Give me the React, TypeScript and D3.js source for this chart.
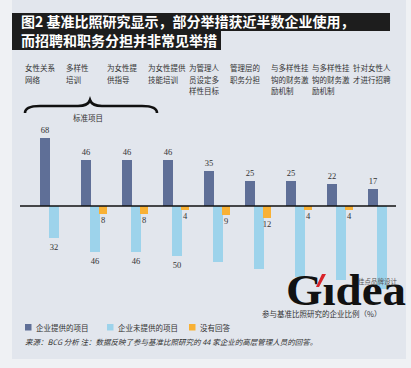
import React from 'react';
import * as d3 from 'd3';

const categories = ['c1', 'c2', 'c3', 'c4', 'c5', 'c6', 'c7', 'c8', 'c9'];
const categoryLabels = [
  ['女性关系', '网络'],
  ['多样性', '培训'],
  ['为女性提', '供指导'],
  ['为女性提供', '技能培训'],
  ['为管理人', '员设定多', '样性目标'],
  ['管理层的', '职务分担'],
  ['与多样性挂', '钩的财务激', '励机制'],
  ['与多样性挂', '钩的财务激', '励机制'],
  ['针对女性人', '才进行招聘']
];
const offered = [68, 46, 46, 46, 35, 25, 25, 22, 17];
const notOffered = [32, 46, 46, 50, 56, 63, 71, 74, 83];
const noAnswer = [0, 8, 8, 4, 9, 12, 4, 4, 0];
const legendLabels = ['企业提供的项目', '企业未提供的项目', '没有回答'];

const COLORS = ['#5f6f97', '#9dd3eb', '#f8b135'];
const CJK = '"Noto Sans CJK SC", "Noto Sans", sans-serif';
const NUM = '"Liberation Serif", "DejaVu Serif", serif';

const W = 411;
const H = 368;

const App = () => {
  const x = d3.scaleBand<string>().domain(categories).range([40, 40 + 41 * 9]).padding(0);
  const y = d3.scaleLinear().domain([-100, 100]).range([306, 106]);
  const y0 = y(0);
  // labels under the logo are not visible in the source
  const logoTop = 270;

  return (
    <svg width={W} height={H} style={{ position: 'absolute', left: 0, top: 0, background: '#eff1f4' }}>
      <rect x={12} y={0} width={394} height={359} fill='#e2e6ed' />

      {/* title */}
      <rect x={12} y={13} width={378} height={18} fill='#1d1d1d' />
      <rect x={12} y={31} width={209} height={19} fill='#1d1d1d' />
      <text x={21} y={27} fill='#fff' fontSize={14} fontWeight='bold' fontFamily={CJK}>
        图2 基准比照研究显示，部分举措获近半数企业使用，
      </text>
      <text x={21} y={46} fill='#fff' fontSize={14} fontWeight='bold' fontFamily={CJK}>
        而招聘和职务分担并非常见举措
      </text>

      {/* category labels */}
      {categories.map((c, i) => (
        <text key={c} x={(x(c) as number) - 15} y={71} fontSize={7.5} fill='#333' fontFamily={CJK}>
          {categoryLabels[i].map((l, j) => (
            <tspan key={j} x={(x(c) as number) - 15} dy={j === 0 ? 0 : 11.5}>{l}</tspan>
          ))}
        </text>
      ))}

      {/* brace */}
      <path
        d='M25,113 Q25,106 40,106 L78,106 Q88,106 90,100 Q92,106 102,106 L142,106 Q157,106 157,113'
        fill='none' stroke='#111' strokeWidth={2.6}
      />
      <text x={88} y={121} textAnchor='middle' fontSize={7.5} fill='#333' fontFamily={CJK}>标准项目</text>

      {/* bars */}
      {categories.map((c, i) => {
        const bx = x(c) as number;
        const ly = y(-notOffered[i]) + 12;
        return (
          <g key={c}>
            <rect x={bx} y={y(offered[i])} width={10} height={y0 - y(offered[i])} fill={COLORS[0]} />
            <text x={bx + 5} y={y(offered[i]) - 5} textAnchor='middle' fontSize={8.5} fill='#333' fontFamily={NUM}>
              {offered[i]}
            </text>
            <rect x={bx + 9} y={y0} width={10} height={y(-notOffered[i]) - y0} fill={COLORS[1]} />
            {ly < logoTop && (
              <text x={bx + 14} y={ly} textAnchor='middle' fontSize={8.5} fill='#333' fontFamily={NUM}>
                {notOffered[i]}
              </text>
            )}
            {noAnswer[i] > 0 && (
              <g>
                <rect x={bx + 18} y={y0} width={8} height={y(-noAnswer[i]) - y0} fill={COLORS[2]} />
                <text x={bx + 22} y={y(-noAnswer[i]) + 9} textAnchor='middle' fontSize={8.5} fill='#333' fontFamily={NUM}>
                  {noAnswer[i]}
                </text>
              </g>
            )}
          </g>
        );
      })}
      <line x1={20} x2={396} y1={y0} y2={y0} stroke='#111' strokeWidth={1.3} />

      <text x={262} y={317} fontSize={7.5} fill='#333' fontFamily={CJK}>参与基准比照研究的企业比例（%）</text>

      {/* watermark */}
      <text x={286} y={305} fontSize={44} fontWeight='bold' fontFamily={NUM} fill='#111' textLength={120} lengthAdjust='spacingAndGlyphs'>
        Gıdea
      </text>
      <path d='M316,287 L322,274 L326,274 L319,287 Z' fill='#d9242a' />
      <text x={358} y={284} fontSize={6.5} fill='#555' fontFamily={CJK}>佳点品牌设计</text>

      {/* legend */}
      {legendLabels.map((l, i) => {
        const lx = [25, 107, 189][i];
        return (
          <g key={l}>
            <rect x={lx} y={324} width={6.5} height={6.5} fill={COLORS[i]} />
            <text x={lx + 11} y={330.5} fontSize={7.5} fill='#333' fontFamily={CJK}>{l}</text>
          </g>
        );
      })}

      <text x={25} y={345} fontSize={7.5} fill='#333' fontStyle='italic' fontFamily={CJK}>
        来源：BCG 分析   注：数据反映了参与基准比照研究的 44 家企业的高层管理人员的回答。
      </text>
    </svg>
  );
};

export default App;
